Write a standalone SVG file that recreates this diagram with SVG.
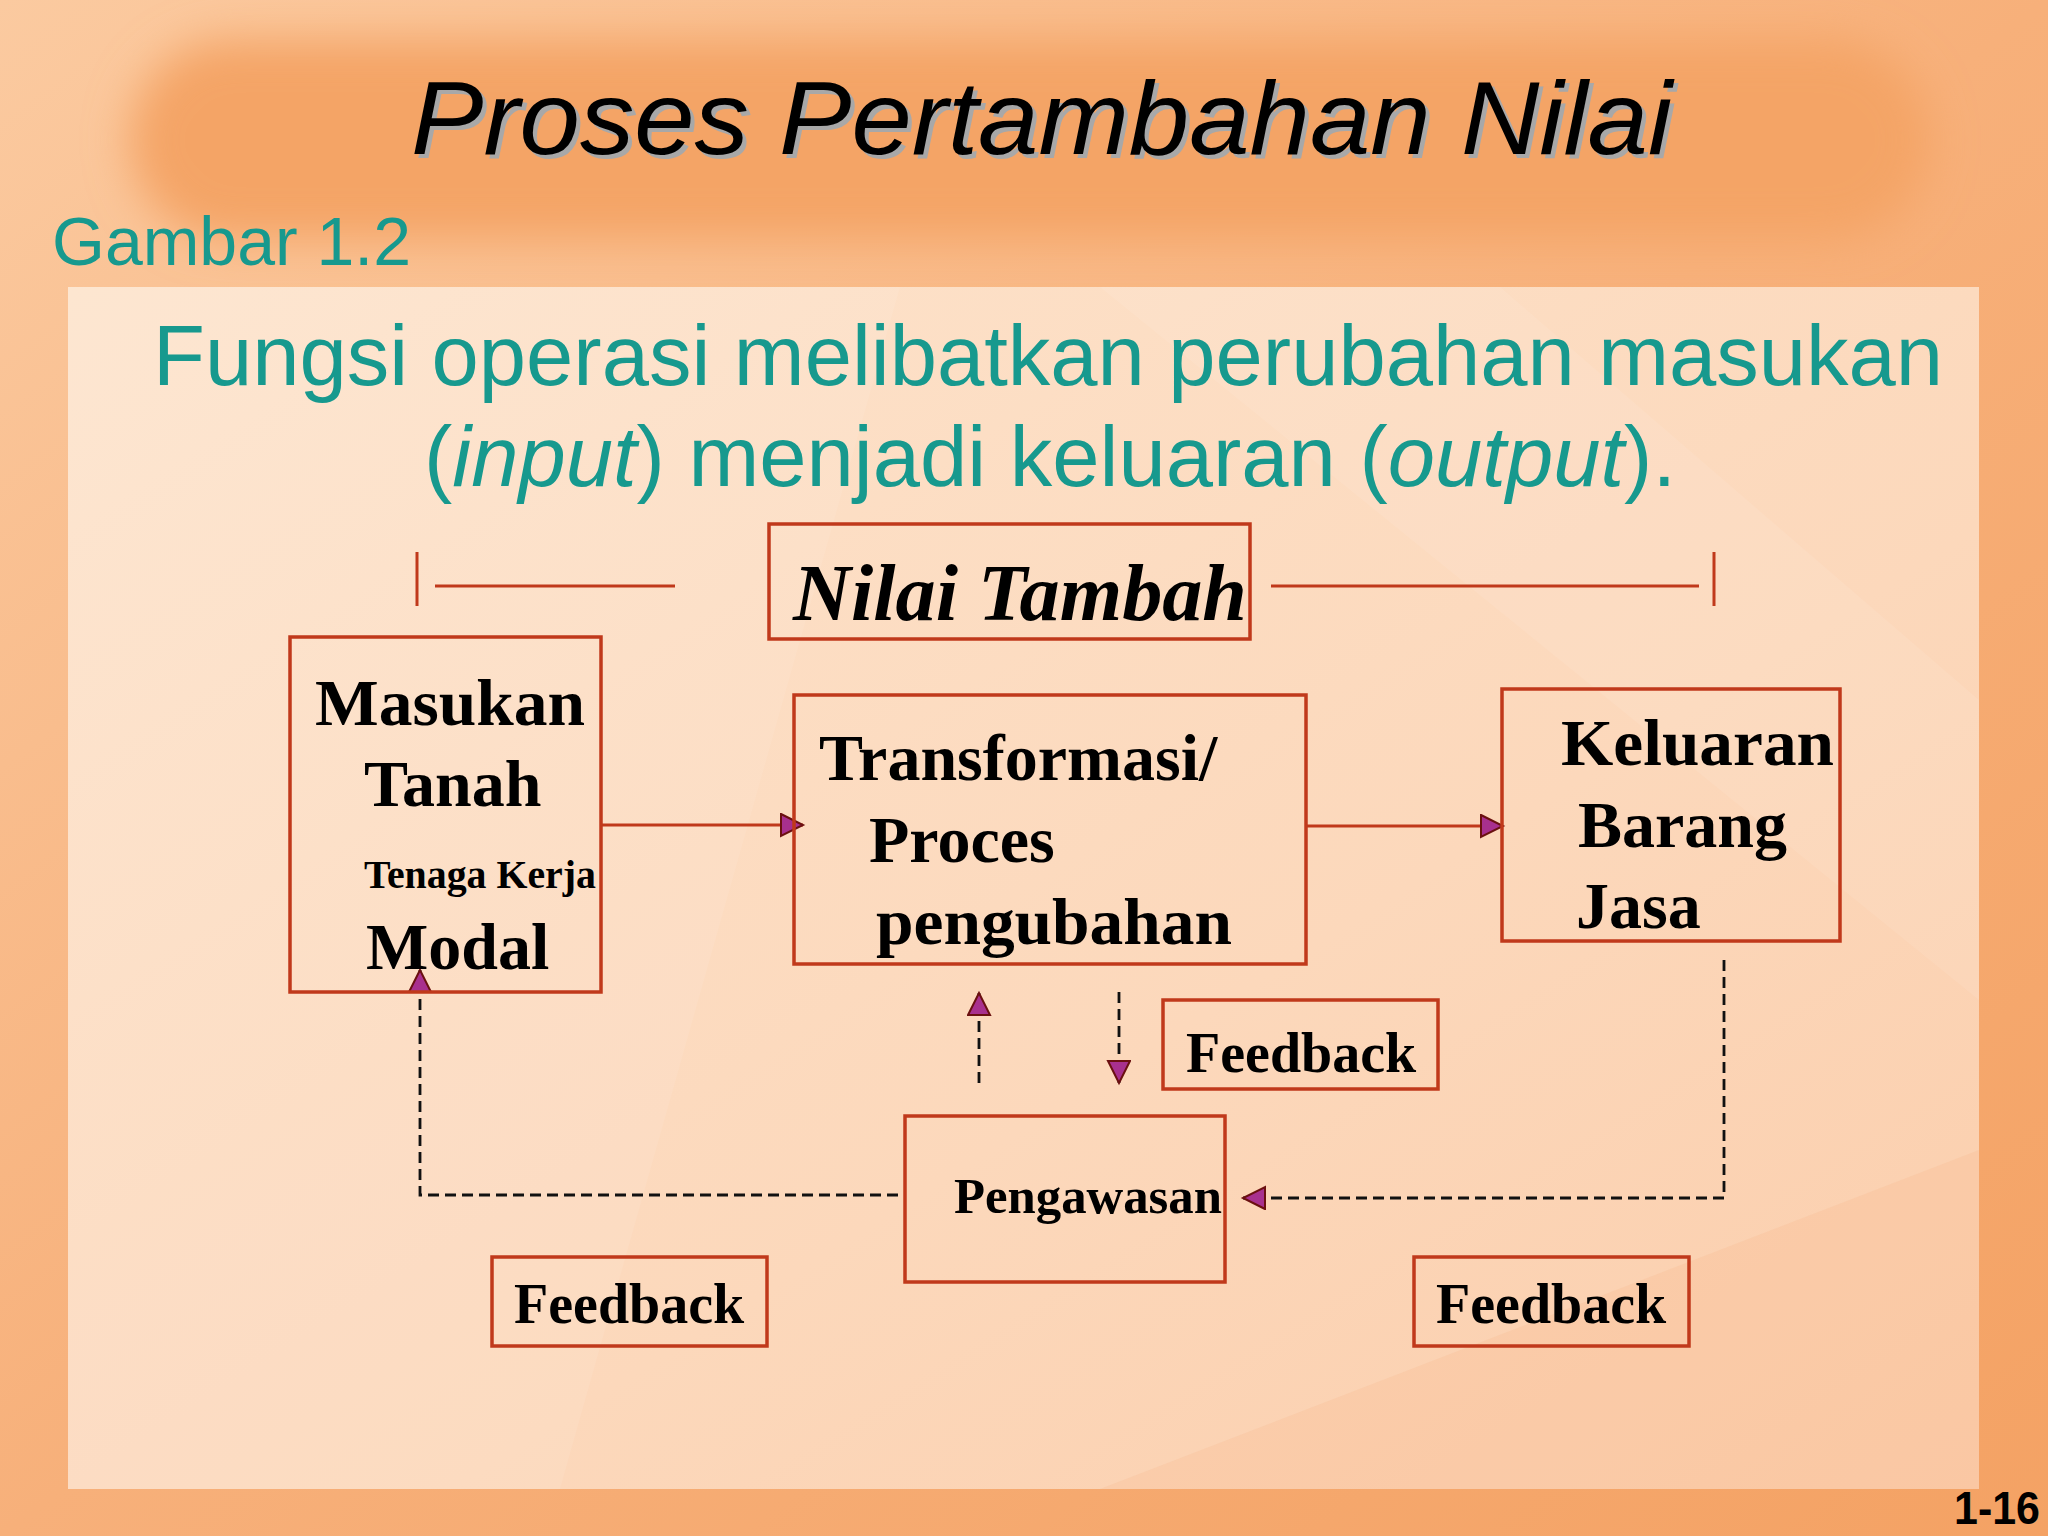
<svg xmlns="http://www.w3.org/2000/svg" width="2048" height="1536" viewBox="0 0 2048 1536">
  <defs>
    <linearGradient id="bg" x1="0" y1="0" x2="1" y2="1">
      <stop offset="0" stop-color="#fbcaa0"/>
      <stop offset="0.5" stop-color="#f7b07a"/>
      <stop offset="1" stop-color="#f4a264"/>
    </linearGradient>
    <linearGradient id="panel" x1="0" y1="0" x2="1" y2="1">
      <stop offset="0" stop-color="#fde4cd"/>
      <stop offset="0.6" stop-color="#fcd8bb"/>
      <stop offset="1" stop-color="#fbcdab"/>
    </linearGradient>
    <filter id="blur" x="-10%" y="-30%" width="120%" height="160%">
      <feGaussianBlur stdDeviation="22"/>
    </filter>
    <marker id="ah" markerUnits="userSpaceOnUse" markerWidth="26" markerHeight="26" refX="23" refY="12" orient="auto" viewBox="0 0 26 26">
      <path d="M1,1 L23,12 L1,23 Z" fill="#a8308e" stroke="#6b1010" stroke-width="2"/>
    </marker>
    <style>
      .box { fill: none; stroke: #c0391b; stroke-width: 3.5; }
      .lbl { font-family: "Liberation Serif", "Times New Roman", serif; font-weight: bold; fill: #000; }
      .teal { font-family: "Liberation Sans", Arial, sans-serif; fill: #17998e; }
      .solid { fill: none; stroke: #c0391b; stroke-width: 3; }
      .dash { fill: none; stroke: #111; stroke-width: 2.8; stroke-dasharray: 11 6; }
      .brk { fill: none; stroke: #c0391b; stroke-width: 3; }
    </style>
  </defs>

  <!-- background -->
  <rect x="0" y="0" width="2048" height="1536" fill="url(#bg)"/>
  <rect x="130" y="40" width="1800" height="200" rx="100" fill="#f4a466" filter="url(#blur)"/>

  <!-- panel -->
  <rect x="68" y="287" width="1911" height="1202" fill="url(#panel)"/>
  <polygon points="68,287 900,287 560,1489 68,1489" fill="#ffffff" opacity="0.08"/>
  <polygon points="1100,287 1500,287 1979,700 1979,1000" fill="#ffffff" opacity="0.08"/>
  <polygon points="1100,1489 1979,1150 1979,1489" fill="#f8b98c" opacity="0.25"/>

  <!-- title -->
  <g id="title">
    <text x="415" y="158" font-family="'Liberation Sans', Arial, sans-serif" font-style="italic" font-size="104" fill="#a8a8a8" textLength="1261" lengthAdjust="spacingAndGlyphs">Proses Pertambahan Nilai</text>
    <text x="411" y="154" font-family="'Liberation Sans', Arial, sans-serif" font-style="italic" font-size="104" fill="#000" textLength="1261" lengthAdjust="spacingAndGlyphs">Proses Pertambahan Nilai</text>
  </g>
  <text class="teal" x="52" y="265" font-size="68" textLength="359" lengthAdjust="spacingAndGlyphs">Gambar 1.2</text>

  <g id="subtitle">
    <text class="teal" x="153" y="385" font-size="85" textLength="1790" lengthAdjust="spacingAndGlyphs">Fungsi operasi melibatkan perubahan masukan</text>
    <text class="teal" x="1050" y="486" font-size="85" text-anchor="middle">(<tspan font-style="italic">input</tspan>) menjadi keluaran (<tspan font-style="italic">output</tspan>).</text>
  </g>

  <!-- Nilai Tambah bracket -->
  <g id="nilai-tambah">
    <rect class="box" x="769" y="524" width="481" height="115"/>
    <text class="lbl" x="793" y="620" font-size="80" font-style="italic" textLength="454" lengthAdjust="spacingAndGlyphs">Nilai Tambah</text>
  </g>
  <g id="bracket">
    <path class="brk" d="M417,552 V606"/>
    <path class="brk" d="M435,586 H675"/>
    <path class="brk" d="M1271,586 H1699"/>
    <path class="brk" d="M1714,552 V606"/>
  </g>

  <!-- connectors -->
  <g id="connectors">
    <path class="solid" d="M600,825 H803" marker-end="url(#ah)"/>
    <path class="solid" d="M1306,826 H1503" marker-end="url(#ah)"/>
    <path class="dash" d="M898,1195 H420 V970" marker-end="url(#ah)"/>
    <path class="dash" d="M1724,960 V1198 H1243" marker-end="url(#ah)"/>
    <path class="dash" d="M979,1083 V993" marker-end="url(#ah)"/>
    <path class="dash" d="M1119,992 V1083" marker-end="url(#ah)"/>
  </g>

  <!-- nodes -->
  <g id="masukan">
    <rect class="box" x="290" y="637" width="311" height="355"/>
    <text class="lbl" x="315" y="725" font-size="66" textLength="270" lengthAdjust="spacingAndGlyphs">Masukan</text>
    <text class="lbl" x="364" y="806" font-size="66">Tanah</text>
    <text class="lbl" x="364" y="888" font-size="39" textLength="232" lengthAdjust="spacingAndGlyphs">Tenaga Kerja</text>
    <text class="lbl" x="366" y="969" font-size="66">Modal</text>
  </g>

  <g id="transformasi">
    <rect class="box" x="794" y="695" width="512" height="269"/>
    <text class="lbl" x="819" y="780" font-size="66">Transformasi/</text>
    <text class="lbl" x="869" y="862" font-size="66">Proces</text>
    <text class="lbl" x="876" y="944" font-size="66" textLength="356" lengthAdjust="spacingAndGlyphs">pengubahan</text>
  </g>

  <g id="keluaran">
    <rect class="box" x="1502" y="689" width="338" height="252"/>
    <text class="lbl" x="1561" y="765" font-size="66" textLength="273" lengthAdjust="spacingAndGlyphs">Keluaran</text>
    <text class="lbl" x="1578" y="847" font-size="66">Barang</text>
    <text class="lbl" x="1576" y="928" font-size="66">Jasa</text>
  </g>

  <g id="pengawasan">
    <rect class="box" x="905" y="1116" width="320" height="166"/>
    <text class="lbl" x="954" y="1213" font-size="50" textLength="268" lengthAdjust="spacingAndGlyphs">Pengawasan</text>
  </g>

  <g id="feedback-top">
    <rect class="box" x="1163" y="1000" width="275" height="89"/>
    <text class="lbl" x="1186" y="1072" font-size="56">Feedback</text>
  </g>

  <g id="feedback-left">
    <rect class="box" x="492" y="1257" width="275" height="89"/>
    <text class="lbl" x="514" y="1323" font-size="56">Feedback</text>
  </g>

  <g id="feedback-right">
    <rect class="box" x="1414" y="1257" width="275" height="89"/>
    <text class="lbl" x="1436" y="1323" font-size="56">Feedback</text>
  </g>

  <text x="2040" y="1524" font-family="'Liberation Sans', Arial, sans-serif" font-weight="bold" font-size="46" fill="#000" text-anchor="end" textLength="86" lengthAdjust="spacingAndGlyphs">1-16</text>
</svg>
